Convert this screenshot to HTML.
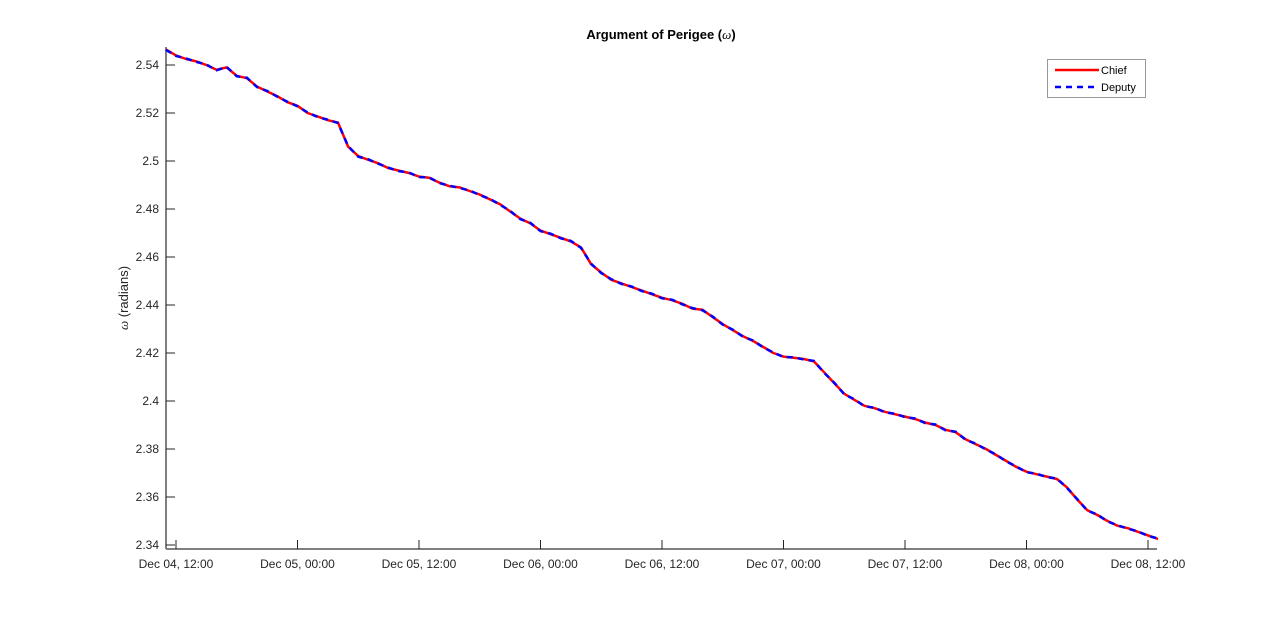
<!DOCTYPE html>
<html><head><meta charset="utf-8"><style>
body{margin:0;background:#fff;}
svg{display:block;font-family:"Liberation Sans",Arial,sans-serif;}
</style></head><body>
<svg id="chart" width="1280" height="618">
<rect width="1280" height="618" fill="#fff"/>
<text x="661" y="39" text-anchor="middle" font-size="13" font-weight="bold" fill="#000">Argument of Perigee (<tspan font-style="italic" font-weight="normal" font-family="Liberation Serif,serif">ω</tspan>)</text>
<text transform="translate(128,298) rotate(-90)" text-anchor="middle" font-size="13" fill="#262626"><tspan font-style="italic" font-family="Liberation Serif,serif">ω</tspan> (radians)</text>
<g id="axes"></g>
<g id="series"></g>
<g>
<rect x="1047.5" y="59.5" width="98" height="38" fill="#fff" stroke="#999"/>
<line x1="1055" y1="70" x2="1099" y2="70" stroke="#f00" stroke-width="2.5"/>
<text x="1101" y="74" font-size="11" fill="#000">Chief</text>
<line x1="1055" y1="87" x2="1099" y2="87" stroke="#00f" stroke-width="2.5" stroke-dasharray="6,5"/>
<text x="1101" y="91" font-size="11" fill="#000">Deputy</text>
</g>
</svg>
<script>
const hours = [-1,0,1,2,3,4,5,6,7,8,9,10,11,12,13,14,15,16,17,18,19,20,21,22,23,24,25,26,27,28,29,30,31,32,33,34,35,36,37,38,39,40,41,42,43,44,45,46,47,48,49,50,51,52,53,54,55,56,57,58,59,60,61,62,63,64,65,66,67,68,69,70,71,72,73,74,75,76,77,78,79,80,81,82,83,84,85,86,87,88,89,90,91,92,93,94,95,96,97];
const chiefValues = [2.5465,2.5440,2.5425,2.5415,2.5400,2.5380,2.5390,2.5355,2.5345,2.5310,2.5290,2.5270,2.5245,2.5230,2.5200,2.5185,2.5170,2.5160,2.5060,2.5020,2.5005,2.4990,2.4970,2.4960,2.4950,2.4935,2.4930,2.4910,2.4895,2.4890,2.4875,2.4860,2.4840,2.4820,2.4790,2.4760,2.4740,2.4710,2.4695,2.4680,2.4665,2.4640,2.4570,2.4535,2.4505,2.4490,2.4475,2.4460,2.4445,2.4430,2.4420,2.4405,2.4385,2.4380,2.4350,2.4320,2.4295,2.4270,2.4250,2.4225,2.4200,2.4185,2.4180,2.4175,2.4165,2.4120,2.4075,2.4030,2.4005,2.3980,2.3970,2.3955,2.3945,2.3935,2.3925,2.3910,2.3900,2.3880,2.3870,2.3840,2.3820,2.3800,2.3775,2.3750,2.3725,2.3705,2.3695,2.3685,2.3675,2.3640,2.3590,2.3545,2.3525,2.3500,2.3480,2.3470,2.3455,2.3440,2.3425];
const deputyValues = [2.5463,2.5438,2.5427,2.5413,2.5402,2.5378,2.5392,2.5353,2.5347,2.5308,2.5292,2.5268,2.5247,2.5228,2.5202,2.5183,2.5172,2.5158,2.5062,2.5018,2.5007,2.4988,2.4972,2.4958,2.4952,2.4933,2.4932,2.4908,2.4897,2.4888,2.4877,2.4858,2.4842,2.4818,2.4792,2.4758,2.4742,2.4708,2.4697,2.4678,2.4667,2.4638,2.4572,2.4533,2.4507,2.4488,2.4477,2.4458,2.4447,2.4428,2.4422,2.4403,2.4387,2.4378,2.4352,2.4318,2.4297,2.4268,2.4252,2.4223,2.4202,2.4183,2.4182,2.4173,2.4167,2.4118,2.4077,2.4028,2.4007,2.3978,2.3972,2.3953,2.3947,2.3933,2.3927,2.3908,2.3902,2.3878,2.3872,2.3838,2.3822,2.3798,2.3777,2.3748,2.3727,2.3703,2.3697,2.3683,2.3677,2.3638,2.3592,2.3543,2.3527,2.3498,2.3482,2.3468,2.3457,2.3438,2.3427];
const yTicks = [2.34,2.36,2.38,2.40,2.42,2.44,2.46,2.48,2.50,2.52,2.54];
const yTickLabels = ["2.34","2.36","2.38","2.4","2.42","2.44","2.46","2.48","2.5","2.52","2.54"];
const xTicks = [0,12,24,36,48,60,72,84,96];
const xTickLabels = ["Dec 04, 12:00","Dec 05, 00:00","Dec 05, 12:00","Dec 06, 00:00","Dec 06, 12:00","Dec 07, 00:00","Dec 07, 12:00","Dec 08, 00:00","Dec 08, 12:00"];

const NS = "http://www.w3.org/2000/svg";
const L = 166, R = 1157, T = 47, B = 549;
const x = h => 176 + h * (972 / 96);
const y = v => 65 + (2.54 - v) * 2400;
function mk(tag, attrs, parent) {
  const el = document.createElementNS(NS, tag);
  for (const k in attrs) el.setAttribute(k, attrs[k]);
  parent.appendChild(el);
  return el;
}
const axes = document.getElementById('axes');
const yAxis = mk('line', {x1: L, y1: T, x2: L, y2: B, stroke: '#808080', 'stroke-width': 2}, axes);


const xAxis = mk('line', {x1: L, y1: B, x2: R, y2: B, stroke: '#808080', 'stroke-width': 2}, axes);


yTicks.forEach((v, i) => {
  const tk = mk('line', {x1: L, y1: y(v), x2: L + 9, y2: y(v), stroke: '#262626', 'stroke-width': 1}, axes);
  
  
  const t = mk('text', {x: L - 7, y: y(v) + 4, 'text-anchor': 'end', 'font-size': 12, fill: '#262626'}, axes);
  t.textContent = yTickLabels[i];
  
  
});
xTicks.forEach((h, i) => {
  const tk = mk('line', {x1: x(h), y1: B, x2: x(h), y2: B - 9, stroke: '#262626', 'stroke-width': 1}, axes);
  
  
  const t = mk('text', {x: x(h), y: B + 19, 'text-anchor': 'middle', 'font-size': 12, fill: '#262626'}, axes);
  t.textContent = xTickLabels[i];
  
  
});
const series = document.getElementById('series');
function path(vals) { return vals.map((v, i) => (i ? 'L' : 'M') + x(hours[i]).toFixed(1) + ',' + y(v).toFixed(1)).join(''); }
const chief = mk('path', {d: path(chiefValues), fill: 'none', stroke: '#f00', 'stroke-width': 2.5, 'stroke-linejoin': 'round'}, series);


const deputy = mk('path', {d: path(deputyValues), fill: 'none', stroke: '#00f', 'stroke-width': 2.5, 'stroke-dasharray': '6,5'}, series);


</script>
</body></html>
